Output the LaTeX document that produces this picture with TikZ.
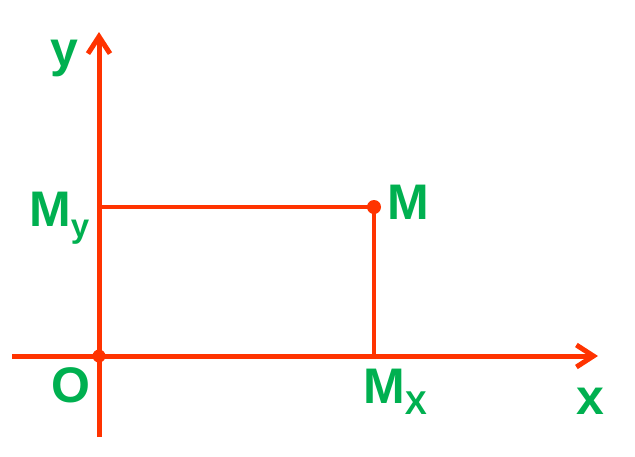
\documentclass[tikz,border=0pt]{standalone}
\usepackage{fontspec}
\setmainfont{Liberation Sans}
\usetikzlibrary{arrows.meta}
\definecolor{axisred}{HTML}{FF3300}
\definecolor{labelgreen}{HTML}{00B050}
\newcommand{\subtxt}[1]{\raisebox{-11pt}{\fontsize{33}{33}\selectfont #1}}

\begin{document}
\begin{tikzpicture}[x=1pt,y=-1pt,
  axis/.style={axisred,line width=5pt,-{Straight Barb[length=17pt,width=22pt]}},
  guide/.style={axisred,line width=4pt},
  lbl/.style={labelgreen,font=\fontsize{50}{50}\selectfont\bfseries,inner sep=0pt,anchor=base west}]
\useasboundingbox (0,0) rectangle (635,456);
\coordinate (O) at (99,356);
\coordinate (M) at (374,207);
\coordinate (My) at (99,207);
\coordinate (Mx) at (374,356);
\coordinate (Xa) at (12,356);\coordinate (Xb) at (598,356);
\coordinate (Ya) at (99,437);\coordinate (Yb) at (99,32);
\draw[axis](Xa)--(Xb);
\draw[axis](Ya)--(Yb);
\draw[guide](My)--(M)--(Mx);
\fill[axisred](O)circle(6.5)(M)circle(7);
\node[lbl](ly) at (50,66){y};
\node[lbl](lx) at (576,414){x};
\node[lbl](lO) at (51,402){O};
\node[lbl](lM) at (387,219){M};
\node[lbl](lMy) at (29,226){M\subtxt{y}};
\node[lbl](lMx) at (363,403){M\subtxt{X}};
\end{tikzpicture}
\end{document}
